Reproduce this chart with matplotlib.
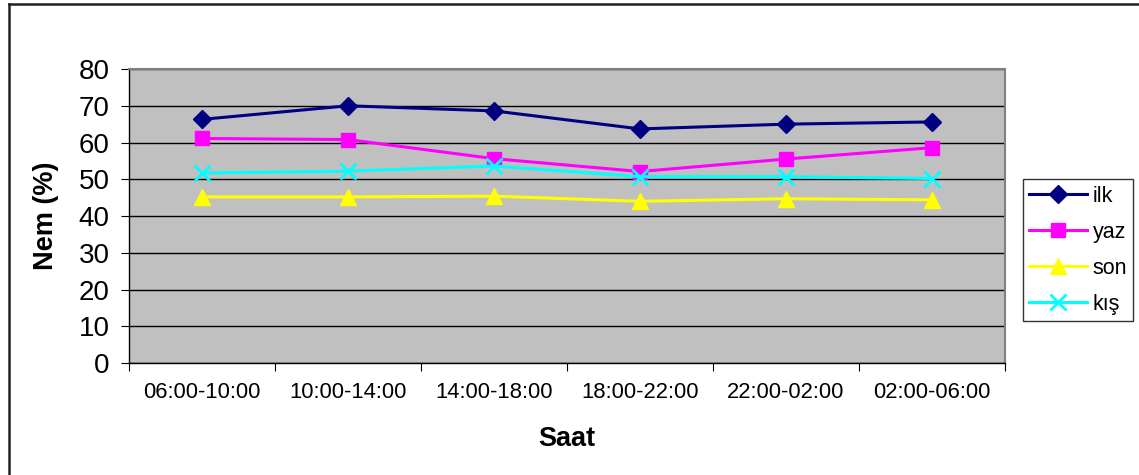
import matplotlib
matplotlib.use("Agg")
import matplotlib.pyplot as plt
from matplotlib.lines import Line2D

plt.rcParams['font.family'] = ['Liberation Sans', 'DejaVu Sans']

# time windows
periods = ['06:00-10:00', '10:00-14:00', '14:00-18:00',
           '18:00-22:00', '22:00-02:00', '02:00-06:00']

# humidity per season
ilk = [66.3, 70.0, 68.6, 63.7, 65.0, 65.6]
yaz = [61.1, 60.8, 55.6, 52.1, 55.5, 58.6]
son = [45.2, 45.2, 45.4, 44.0, 44.7, 44.4]
kis = [51.7, 52.2, 53.6, 50.7, 50.7, 50.2]

W, H = 1139, 475
fig = plt.figure(figsize=(W / 100, H / 100), dpi=100)
# chart border, only top and left are visible (picture is cropped)
fig.lines.append(Line2D([8.5 / W, 8.5 / W], [0, 1 - 4 / H], transform=fig.transFigure,
                        color='#222222', linewidth=1.8))
fig.lines.append(Line2D([8.5 / W, 1], [1 - 4 / H, 1 - 4 / H], transform=fig.transFigure,
                        color='#222222', linewidth=1.8))

ax = fig.add_axes([0.1133, 0.2358, 0.7691, 0.6189])
ax.set_facecolor('#C0C0C0')
x = list(range(len(periods)))

ax.plot(x, ilk, color='#000080', marker='D', markersize=9, linewidth=2.2, label='ilk')
ax.plot(x, yaz, color='#FF00FF', marker='s', markersize=10, linewidth=2.2, label='yaz')
ax.plot(x, son, color='#FFFF00', marker='^', markersize=11, linewidth=2.2, label='son')
ax.plot(x, kis, color='#00FFFF', marker='x', markersize=11, markeredgewidth=2,
        linewidth=2.2, label='kış')

ax.set_xlim(-0.5, len(periods) - 0.5)
ax.set_ylim(0, 80)
ax.set_yticks(range(0, 81, 10))
ax.tick_params(axis='y', labelsize=20, length=6, direction='out', pad=8)
ax.set_xticks([i - 0.5 for i in range(len(periods) + 1)])
ax.set_xticklabels([])
ax.set_xticks(x, minor=True)
ax.set_xticklabels(periods, minor=True, fontsize=15.8)
ax.tick_params(axis='x', which='major', length=6, direction='out')
ax.tick_params(axis='x', which='minor', length=0, pad=14)
ax.grid(axis='y', color='black', linewidth=1)
ax.set_axisbelow(True)
for s in ax.spines.values():
    s.set_color('#808080')
    s.set_linewidth(1.5)
ax.spines['left'].set_color('black')
ax.spines['left'].set_linewidth(1)
ax.spines['bottom'].set_color('black')
ax.spines['bottom'].set_linewidth(1)

ax.set_ylabel('Nem (%)', fontsize=19.5, fontweight='bold', labelpad=14)
ax.set_xlabel('Saat', fontsize=19.5, fontweight='bold', labelpad=16)

leg = ax.legend(loc='center left', bbox_to_anchor=(1.02, 0.384), fontsize=15.5,
                frameon=True, fancybox=False, edgecolor='black', handlelength=2.7,
                borderpad=0.3, labelspacing=0.7, handletextpad=0.25, borderaxespad=0)
leg.get_frame().set_linewidth(1)

fig.savefig('out.png', dpi=100)
